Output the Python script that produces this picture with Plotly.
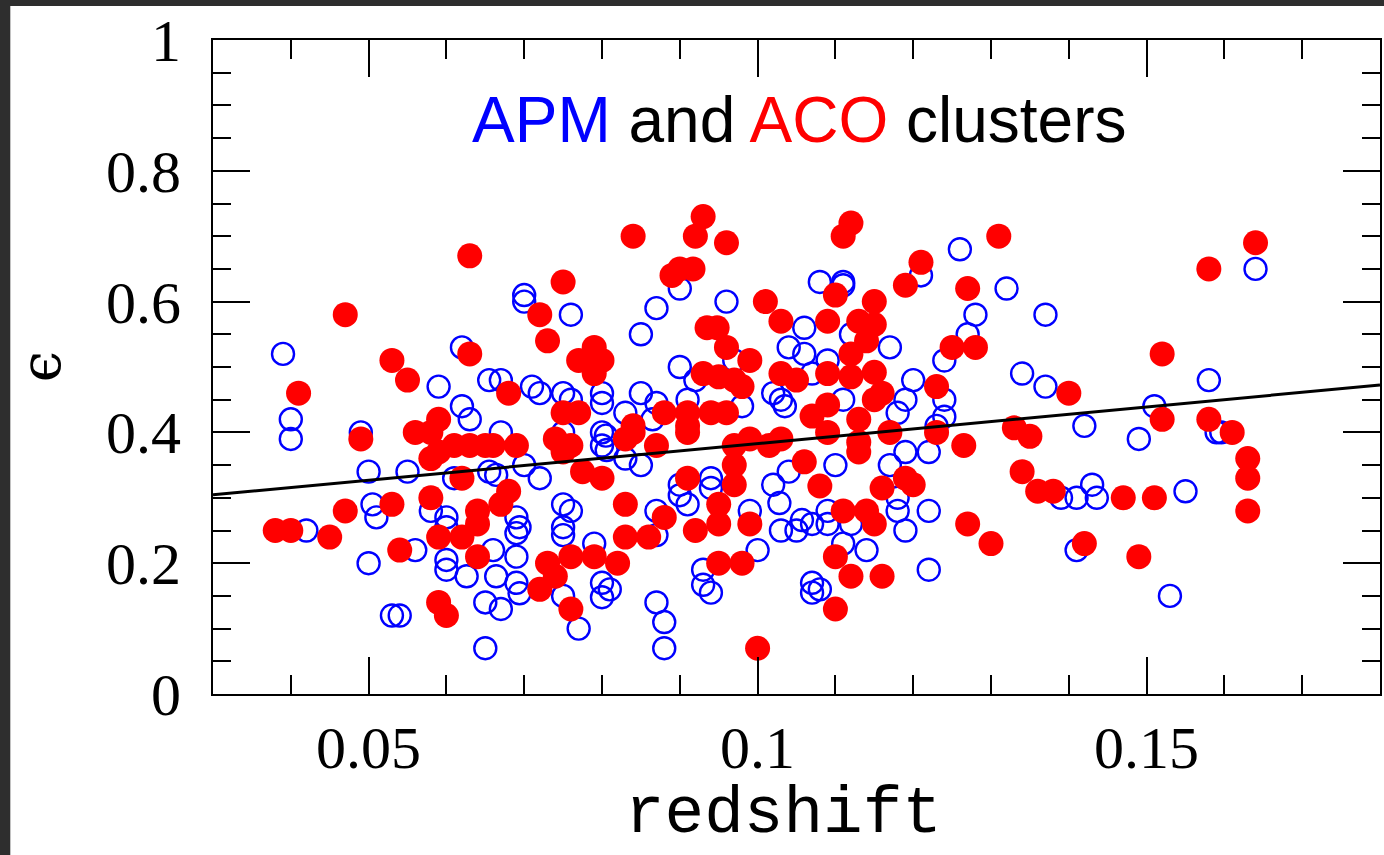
import plotly.graph_objects as go

# APM clusters (open blue circles): redshift and ellipticity
apm_z = [0.039, 0.040, 0.040, 0.049, 0.070, 0.070, 0.062, 0.059, 0.062, 0.063, 0.0655, 0.067, 0.071, 0.067,
         0.076, 0.087, 0.090, 0.085, 0.096, 0.108, 0.106, 0.104, 0.106, 0.090, 0.097, 0.072, 0.075, 0.076,
         0.080, 0.080, 0.085, 0.087, 0.0865, 0.083, 0.091, 0.092, 0.102, 0.103, 0.1035, 0.098, 0.080, 0.0805,
         0.075,
         0.126, 0.111, 0.111, 0.121, 0.132, 0.128, 0.137, 0.127, 0.117, 0.112, 0.124, 0.134, 0.137, 0.120,
         0.119, 0.118, 0.124, 0.124, 0.123, 0.111, 0.109, 0.142, 0.107,
         0.164, 0.158, 0.151, 0.149, 0.159, 0.1596,
         0.050, 0.055, 0.061, 0.0655, 0.0664, 0.0505, 0.051, 0.058, 0.060, 0.060, 0.042, 0.069, 0.0694,
         0.069, 0.050, 0.056, 0.060, 0.060, 0.0626, 0.066, 0.0664, 0.069, 0.069, 0.0694, 0.065, 0.067, 0.053,
         0.054, 0.065,
         0.072, 0.070, 0.080, 0.0806, 0.083, 0.085, 0.075, 0.076, 0.075, 0.075, 0.079, 0.080, 0.081, 0.080,
         0.075, 0.077, 0.087, 0.087, 0.090, 0.090, 0.091, 0.094, 0.094, 0.099, 0.100, 0.093, 0.093, 0.094,
         0.087, 0.088, 0.088, 0.102, 0.1028, 0.104, 0.103, 0.105, 0.1057, 0.107, 0.107, 0.108,
         0.110, 0.117, 0.119, 0.122, 0.118, 0.118, 0.122, 0.119, 0.109, 0.109, 0.107, 0.112, 0.111, 0.114,
         0.122, 0.139, 0.141, 0.143, 0.1436, 0.141,
         0.155, 0.153]
apm_eps = [0.52, 0.42, 0.39, 0.40, 0.61, 0.60, 0.53, 0.47, 0.44, 0.42, 0.48, 0.48, 0.47, 0.40,
           0.58, 0.59, 0.62, 0.55, 0.60, 0.63, 0.56, 0.53, 0.52, 0.50, 0.51, 0.46, 0.46, 0.45,
           0.46, 0.445, 0.46, 0.445, 0.42, 0.43, 0.45, 0.48, 0.46, 0.45, 0.44, 0.44, 0.40, 0.395,
           0.40,
           0.68, 0.63, 0.625, 0.64, 0.62, 0.58, 0.58, 0.55, 0.53, 0.55, 0.51, 0.49, 0.47, 0.48,
           0.45, 0.43, 0.45, 0.424, 0.41, 0.45, 0.51, 0.41, 0.49,
           0.65, 0.48, 0.44, 0.39, 0.40, 0.40,
           0.34, 0.34, 0.33, 0.34, 0.335, 0.29, 0.27, 0.28, 0.27, 0.255, 0.25, 0.27, 0.255,
           0.246, 0.20, 0.22, 0.205, 0.19, 0.18, 0.22, 0.18, 0.21, 0.17, 0.154, 0.14, 0.13, 0.12,
           0.12, 0.07,
           0.33, 0.35, 0.38, 0.373, 0.36, 0.35, 0.29, 0.28, 0.255, 0.243, 0.23, 0.17, 0.16, 0.148,
           0.15, 0.10, 0.28, 0.243, 0.32, 0.304, 0.29, 0.33, 0.315, 0.28, 0.22, 0.19, 0.167, 0.155,
           0.14, 0.11, 0.07, 0.32, 0.292, 0.34, 0.25, 0.25, 0.266, 0.17, 0.155, 0.16,
           0.35, 0.35, 0.37, 0.37, 0.30, 0.28, 0.28, 0.25, 0.28, 0.26, 0.26, 0.26, 0.23, 0.22,
           0.19, 0.30, 0.30, 0.32, 0.30, 0.22,
           0.31, 0.15]

# ACO clusters (filled red circles)
aco_z = [0.063, 0.047, 0.063, 0.053, 0.055, 0.041, 0.068, 0.059,
         0.093, 0.092, 0.084, 0.096, 0.089, 0.090, 0.0917, 0.075, 0.101, 0.103, 0.072, 0.073, 0.0935, 0.0948,
         0.096, 0.079, 0.077, 0.080, 0.079, 0.099, 0.093, 0.095, 0.097, 0.098, 0.103, 0.105, 0.075, 0.077,
         0.088, 0.091, 0.094, 0.096, 0.091, 0.084, 0.107,
         0.112, 0.111, 0.131, 0.121, 0.119, 0.127, 0.110, 0.115, 0.109, 0.113, 0.115, 0.114, 0.112, 0.125,
         0.128, 0.109, 0.112, 0.115, 0.116, 0.115, 0.123, 0.140, 0.109, 0.113, 0.133, 0.135,
         0.164, 0.158, 0.152, 0.152, 0.158, 0.161,
         0.049, 0.056, 0.058, 0.059, 0.058, 0.061, 0.063, 0.065, 0.066, 0.069, 0.062, 0.058, 0.068, 0.067,
         0.064, 0.064, 0.047, 0.053, 0.038, 0.040, 0.045, 0.059, 0.062, 0.054, 0.064, 0.059, 0.060,
         0.074, 0.075, 0.076, 0.083, 0.084, 0.087, 0.091, 0.0775, 0.080, 0.097, 0.099, 0.1015, 0.103, 0.097,
         0.106, 0.091, 0.097, 0.083, 0.095, 0.088, 0.095, 0.092, 0.099, 0.083, 0.086, 0.073, 0.076, 0.079,
         0.082, 0.072, 0.074, 0.076, 0.095, 0.098, 0.100,
         0.109, 0.113, 0.113, 0.117, 0.123, 0.1265, 0.108, 0.116, 0.119, 0.120, 0.111, 0.114, 0.115, 0.134,
         0.136, 0.138, 0.127, 0.130, 0.142, 0.110, 0.112, 0.116, 0.110,
         0.163, 0.163, 0.147, 0.151, 0.163, 0.149]
aco_eps = [0.67, 0.58, 0.52, 0.51, 0.48, 0.46, 0.46, 0.42,
           0.73, 0.70, 0.70, 0.69, 0.64, 0.65, 0.65, 0.63, 0.60, 0.57, 0.58, 0.54, 0.56, 0.56,
           0.53, 0.53, 0.51, 0.51, 0.49, 0.51, 0.49, 0.485, 0.48, 0.47, 0.49, 0.48, 0.43, 0.43,
           0.43, 0.43, 0.43, 0.43, 0.41, 0.41, 0.425,
           0.72, 0.70, 0.70, 0.66, 0.625, 0.62, 0.61, 0.60, 0.57, 0.57, 0.565, 0.54, 0.52, 0.53,
           0.53, 0.49, 0.485, 0.492, 0.46, 0.45, 0.47, 0.46, 0.442, 0.42, 0.407, 0.394,
           0.69, 0.65, 0.52, 0.42, 0.42, 0.40,
           0.39, 0.40, 0.40, 0.37, 0.36, 0.38, 0.38, 0.38, 0.38, 0.38, 0.33, 0.30, 0.31, 0.29,
           0.28, 0.26, 0.28, 0.29, 0.25, 0.25, 0.24, 0.24, 0.24, 0.22, 0.21, 0.14, 0.12,
           0.39, 0.37, 0.38, 0.39, 0.40, 0.38, 0.40, 0.34, 0.33, 0.38, 0.39, 0.38, 0.39, 0.35,
           0.355, 0.33, 0.32, 0.29, 0.29, 0.27, 0.26, 0.25, 0.26, 0.24, 0.24, 0.20, 0.21, 0.21,
           0.20, 0.16, 0.18, 0.13, 0.20, 0.20, 0.07,
           0.40, 0.37, 0.385, 0.40, 0.40, 0.38, 0.318, 0.315, 0.33, 0.32, 0.28, 0.28, 0.26, 0.34,
           0.31, 0.31, 0.26, 0.23, 0.23, 0.21, 0.18, 0.18, 0.13,
           0.36, 0.33, 0.30, 0.30, 0.28, 0.21]

# Linear fit of ellipticity against redshift
fit_z = [0.03, 0.18]
fit_eps = [0.3045, 0.4725]

x_ticks = [0.05, 0.1, 0.15]
x_ticktext = ["0.05", "0.1", "0.15"]
y_ticks = [0, 0.2, 0.4, 0.6, 0.8, 1]
y_ticktext = ["0", "0.2", "0.4", "0.6", "0.8", "1"]

BLUE = "#0000ff"
RED = "#ff0000"
SERIF = "Liberation Serif"

fig = go.Figure()
fig.add_trace(go.Scatter(
    x=apm_z, y=apm_eps, mode="markers", name="APM",
    marker=dict(symbol="circle-open", size=22, color=BLUE, line=dict(width=2.4, color=BLUE)),
))
fig.add_trace(go.Scatter(
    x=aco_z, y=aco_eps, mode="markers", name="ACO",
    marker=dict(symbol="circle", size=25, color=RED, line=dict(width=0)),
))
fig.add_trace(go.Scatter(
    x=fit_z, y=fit_eps, mode="lines", name="fit",
    line=dict(color="black", width=3),
))

axis_common = dict(
    showline=True, linecolor="black", linewidth=2, mirror="allticks",
    ticks="inside", tickcolor="black", tickwidth=2, ticklen=37,
    showgrid=False, zeroline=False,
    tickfont=dict(family=SERIF, size=60, color="black"),
)

fig.update_xaxes(
    range=[0.03, 0.18], tickvals=x_ticks, ticktext=x_ticktext,
    minor=dict(dtick=0.01, tick0=0, ticks="inside", ticklen=19, tickwidth=2, tickcolor="black", showgrid=False),
    ticklabelstandoff=0,
    **axis_common,
)
fig.update_yaxes(
    range=[0, 1], tickvals=y_ticks, ticktext=y_ticktext,
    minor=dict(dtick=0.05, tick0=0, ticks="inside", ticklen=18, tickwidth=2, tickcolor="black", showgrid=False),
    ticklabelstandoff=18,
    **axis_common,
)

fig.update_layout(
    width=1384, height=855,
    margin=dict(l=213, r=2, t=40, b=161),
    paper_bgcolor="white", plot_bgcolor="white",
    showlegend=False,
    shapes=[
        # dark frame strips at the left and top edges of the page
        dict(type="rect", xref="paper", yref="paper", x0=-0.2, x1=-0.1737, y0=-0.3, y1=1.1,
             fillcolor="#2e2e2e", line=dict(width=0), layer="below"),
        dict(type="rect", xref="paper", yref="paper", x0=-0.2, x1=1.01, y0=1.052, y1=1.1,
             fillcolor="#2e2e2e", line=dict(width=0), layer="below"),
    ],
    annotations=[
        dict(text="<span style='color:#0000ff'>APM</span> and <span style='color:#ff0000'>ACO</span> clusters",
             xref="paper", yref="paper", x=0.502, y=0.878, xanchor="center", yanchor="middle",
             showarrow=False, font=dict(family="Liberation Sans", size=64, color="black")),
        dict(text="redshift", xref="paper", yref="paper", x=0.489, y=-0.245,
             xanchor="center", yanchor="bottom", showarrow=False,
             font=dict(family="Liberation Mono", size=66, color="black")),
        dict(text="ϵ", xref="paper", yref="paper", x=-0.148, y=0.50, textangle=-90,
             xanchor="center", yanchor="middle", showarrow=False,
             font=dict(family="DejaVu Serif", size=56, color="black")),
    ],
)

fig.write_html("out.html")
